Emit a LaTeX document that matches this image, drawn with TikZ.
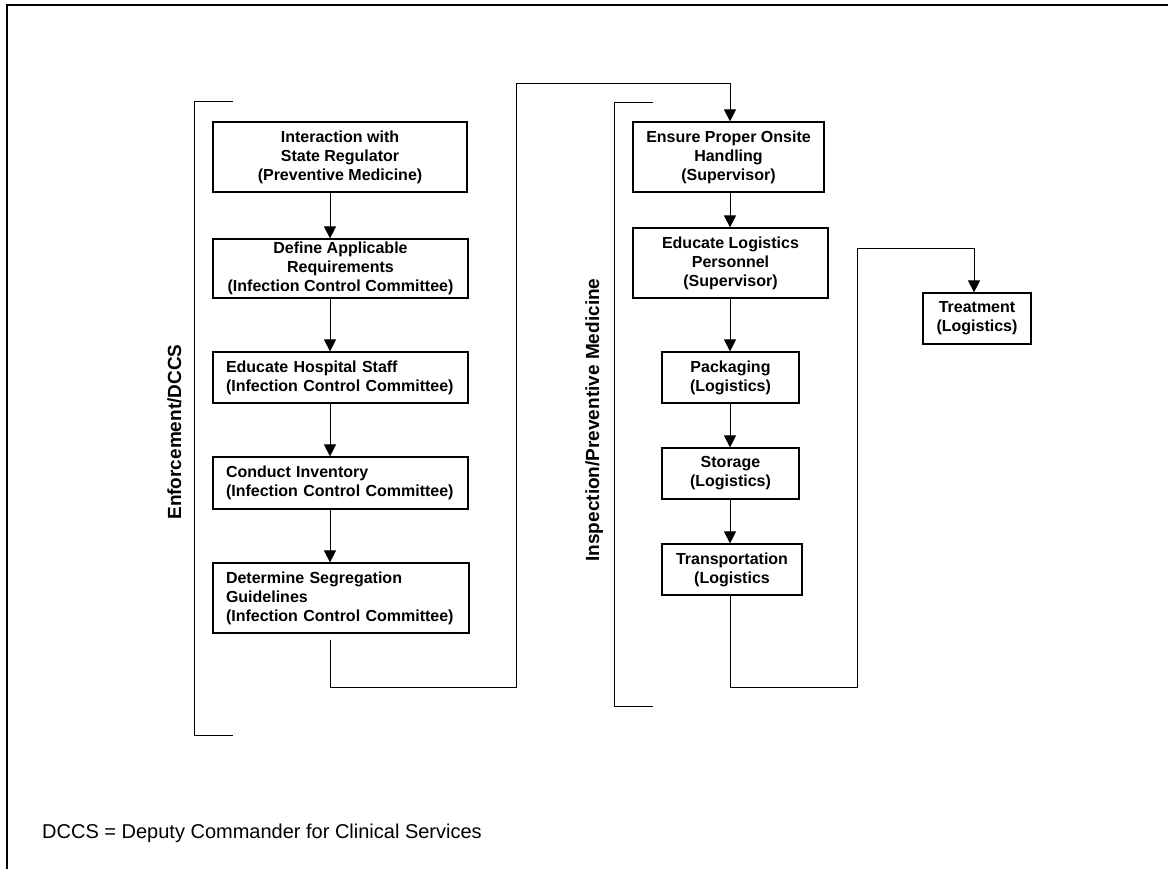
\documentclass[tikz,border=0pt]{standalone}
\usepackage{fontspec}
\setmainfont{Liberation Sans}
\usetikzlibrary{arrows.meta}
\newcommand\myNoHyph{\hyphenpenalty=10000 \exhyphenpenalty=10000\relax}
\begin{document}
\begin{tikzpicture}[x=1pt,y=-1pt,
  boxfont/.style={font=\bfseries\fontsize{16}{19}\selectfont\myNoHyph},
  cbox/.style={draw,line width=1.2pt,inner sep=0pt,align=center,boxfont},
  lbox/.style={draw,line width=1.2pt,inner xsep=13pt,inner ysep=0pt,align=left,boxfont},
  conn/.style={line width=1pt},
  arr/.style={conn,-{Triangle[width=12pt,length=12pt]}},
  side/.style={font=\bfseries\fontsize{19}{22}\selectfont,rotate=90,anchor=base},
  frame/.style={line width=2.2pt}]
\useasboundingbox (0,0) rectangle (1169,869);
\draw[frame] (7,869) -- (7,5) -- (1168,5);

% left column
\node[cbox,minimum width=254pt,minimum height=70pt] (n1) at (340,157)
  {Interaction with\\State Regulator\\(Preventive Medicine)};
\node[cbox,minimum width=255pt,minimum height=59pt] (n2) at (340.5,268.5)
  {Define Applicable\\Requirements\\(Infection Control Committee)};
\node[lbox,text width=229pt,minimum height=51pt] (n3) at (340.5,377.5)
  {Educate Hospital Staff\\(Infection Control Committee)};
\node[lbox,text width=229pt,minimum height=52pt] (n4) at (340.5,483)
  {Conduct Inventory\\(Infection Control Committee)};
\node[lbox,text width=230pt,minimum height=70pt] (n5) at (341,598)
  {Determine Segregation\\Guidelines\\(Infection Control Committee)};

% right column
\node[cbox,minimum width=191pt,minimum height=70pt] (n6) at (728.5,157)
  {Ensure Proper Onsite\\Handling\\(Supervisor)};
\node[cbox,minimum width=195pt,minimum height=70pt] (n7) at (730.5,263)
  {Educate Logistics\\Personnel\\(Supervisor)};
\node[cbox,minimum width=137pt,minimum height=51pt] (n8) at (730.5,377.5)
  {Packaging\\(Logistics)};
\node[cbox,minimum width=137pt,minimum height=51pt] (n9) at (730.5,473.5)
  {Storage\\(Logistics)};
\node[cbox,minimum width=140pt,minimum height=51pt] (n10) at (732,569.5)
  {Transportation\\(Logistics};
\node[cbox,minimum width=108pt,minimum height=51pt] (n11) at (977,318.5)
  {Treatment\\(Logistics)};

% side labels
\node[side] (s1) at (181,432) {Enforcement/DCCS};
\node[side] (s2) at (599,420) {Inspection/Preventive Medicine};

% brackets
\draw[conn] (233,102) -- (194,102) -- (194,735) -- (233,735);
\draw[conn] (653,103) -- (614,103) -- (614,706) -- (653,706);

% connector x positions
\coordinate (ax) at (330,0);
\coordinate (bx) at (730,0);
\coordinate (tx) at (974,0);

\draw[arr] (n1.south -| ax) -- (n2.north -| ax);
\draw[arr] (n2.south -| ax) -- (n3.north -| ax);
\draw[arr] (n3.south -| ax) -- (n4.north -| ax);
\draw[arr] (n4.south -| ax) -- (n5.north -| ax);

\draw[arr] (n6.south -| bx) -- (n7.north -| bx);
\draw[arr] (n7.south -| bx) -- (n8.north -| bx);
\draw[arr] (n8.south -| bx) -- (n9.north -| bx);
\draw[arr] (n9.south -| bx) -- (n10.north -| bx);

\coordinate (c1) at (516,687);
\coordinate (c2) at (516,84);
\draw[arr] ([yshift=-6pt]n5.south -| ax) -- (ax |- c1) -- (c1) -- (c2) -| (n6.north -| bx);

\coordinate (d1) at (857,687);
\coordinate (d2) at (857,248);
\draw[arr] (n10.south -| bx) -- (bx |- d1) -- (d1) -- (d2) -| (n11.north -| tx);

% footnote
\node[anchor=base west,inner sep=0pt,font=\fontsize{20}{24}\selectfont] (fn) at (42,838)
  {DCCS = Deputy Commander for Clinical Services};
\end{tikzpicture}
\end{document}
